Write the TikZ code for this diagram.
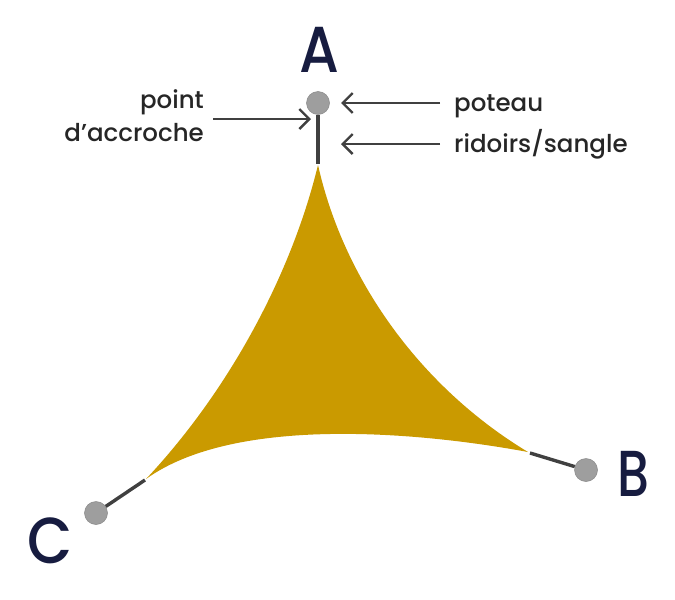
\documentclass[tikz,border=0pt]{standalone}
\usepackage{xcolor}
\usepackage{fontspec}
\setmainfont{Poppins}
\newfontfamily\mediumfont{Poppins Medium}
\usepackage{tikz}
\usetikzlibrary{positioning, arrows.meta}
\definecolor{sailgold}{HTML}{CA9A00}
\definecolor{lettercol}{HTML}{171C40}
\definecolor{strapcol}{HTML}{404040}
\definecolor{postcol}{HTML}{9E9E9E}

\begin{document}
\begin{tikzpicture}[
	  x=1pt, y=-1pt,
	  post/.style={circle, fill=postcol, draw=postcol!85!black, line width=0.5pt, inner sep=0pt, minimum size=23pt},
	  strap/.style={strapcol, line width=3.4pt},
	  letter/.style={font=\mediumfont\fontsize{65}{65}\selectfont, text=lettercol, inner sep=0pt, transform shape},
	  annot/.style={font=\mediumfont\fontsize{24.5}{33}\selectfont, text=black!85, inner sep=0pt},
	  arrow/.style={-{Straight Barb[length=10pt,width=20pt,line width=2.4pt]}, strapcol, line width=2.4pt}
	]
	\useasboundingbox (0,0) rectangle (675,600);

	% --- Sail ---
	\fill[sailgold] (318,165)
	  .. controls (345,285) and (425,390) .. (528,452)
	  .. controls (420,432) and (235,415) .. (146,479)
	  .. controls (225,395) and (290,280) .. (318,165) -- cycle;

	% --- Posts ---
	\node[post] (postA) at (318,103) {};
	\node[post] (postB) at (586,470) {};
	\node[post] (postC) at (96,513) {};

	% --- Sail corners ---
	\coordinate (cornerA) at (318,164);
	\coordinate (cornerB) at (530,453);
	\coordinate (cornerC) at (145,480);

	% --- Letters ---
	\node[letter, xscale=0.88] (letterA) at (319,50) {A};
	\node[letter, xscale=0.78] (letterB) at (633.5,474) {B};
	\node[letter, xscale=0.9] (letterC) at (50,541) {C};

	% --- Labels ---
	\node[annot, anchor=base east] (point) at (204,108) {point};
	\node[annot, anchor=base east] (accroche) at (204,141) {d’accroche};
	\node[annot, anchor=base west] (poteau) at (454,111) {poteau};
	\node[annot, anchor=base west] (ridoirs) at (454,152) {ridoirs/sangle};

	% --- Arrow ends ---
	\coordinate (attachTip) at (311,119);
	\coordinate (attachTail) at (213,119);
	\coordinate (postTip) at (341,103);
	\coordinate (postTail) at (440,103);
	\coordinate (strapTip) at (341,144);
	\coordinate (strapTail) at (440,144);

	% --- Straps ---
	\draw[strap] (postA) -- (cornerA);
	\draw[strap] (postB) -- (cornerB);
	\draw[strap] (postC) -- (cornerC);

	% --- Flows ---
	\draw[arrow] (attachTail) -- (attachTip);
	\draw[arrow] (postTail) -- (postTip);
	\draw[arrow] (strapTail) -- (strapTip);

	\end{tikzpicture}
\end{document}
